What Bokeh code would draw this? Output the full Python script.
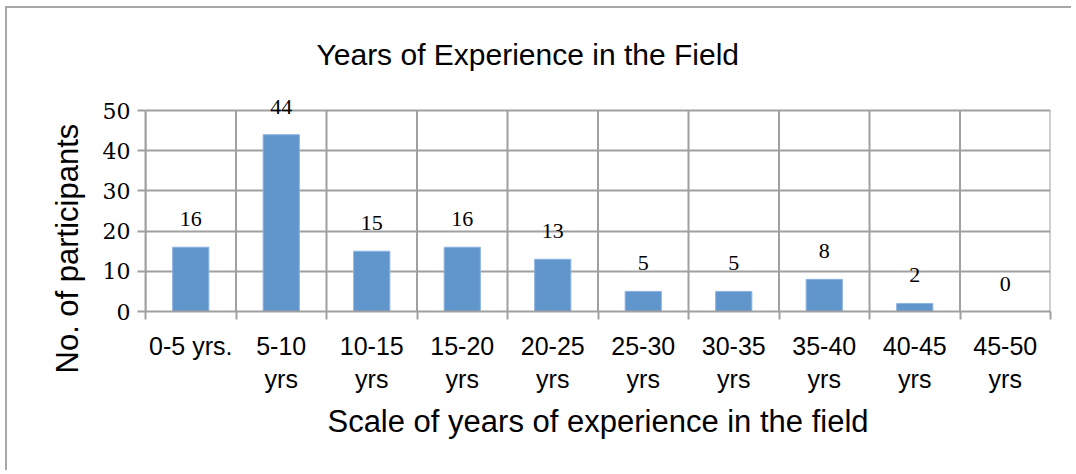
from bokeh.plotting import figure
from bokeh.models import Range1d, FixedTicker, Title, LabelSet, ColumnDataSource
from bokeh.embed import file_html
from bokeh.resources import INLINE

categories = ["0-5 yrs.", "5-10\nyrs", "10-15\nyrs", "15-20\nyrs", "20-25\nyrs",
              "25-30\nyrs", "30-35\nyrs", "35-40\nyrs", "40-45\nyrs", "45-50\nyrs"]
participants = [16, 44, 15, 16, 13, 5, 5, 8, 2, 0]
y_ticks = [0, 10, 20, 30, 40, 50]
y_max = 50

centers = [i + 0.5 for i in range(len(categories))]
bounds = list(range(len(categories) + 1))

GRID = "#A0A0A0"

p = figure(width=1066, height=464, output_backend="svg", toolbar_location=None,
           x_range=Range1d(0, len(categories)), y_range=Range1d(0, 56),
           min_border_left=138, min_border_right=23, min_border_top=78,
           min_border_bottom=161)
p.outline_line_color = None
p.background_fill_color = "white"
p.border_fill_color = "white"
p.styles = {"border-left": "2px solid #A8A8A8", "border-top": "2px solid #A8A8A8",
            "margin-left": "5px", "margin-top": "6px"}

# title
t = Title(text="Years of Experience in the Field", align="left", offset=171,
          text_font="Liberation Sans", text_font_size="30px",
          text_font_style="normal", text_color="black", standoff=32)
p.add_layout(t, "above")

# horizontal grid
p.xgrid.visible = False
p.ygrid.ticker = FixedTicker(ticks=y_ticks)
p.ygrid.grid_line_color = GRID
p.ygrid.grid_line_width = 2

# vertical grid lines between categories (0..50)
p.segment(x0=bounds, y0=[0] * len(bounds), x1=bounds, y1=[y_max] * len(bounds),
          line_color=GRID, line_width=2)

# bars
p.vbar(x=centers, top=participants, width=0.4, fill_color="#6096CC",
       line_color="#8DB3E2", line_width=1)

# value labels
src = ColumnDataSource(dict(x=centers, y=participants,
                            txt=[str(v) for v in participants]))
labels = LabelSet(x="x", y="y", text="txt", source=src,
                  text_font="DejaVu Serif", text_font_size="22px",
                  text_align="center", text_baseline="middle", y_offset=28,
                  text_color="black")
p.add_layout(labels)

# x axis
xa = p.xaxis[0]
xa.ticker = FixedTicker(ticks=centers, minor_ticks=bounds)
xa.major_label_overrides = {c: lab for c, lab in zip(centers, categories)}
xa.major_tick_out = 0
xa.major_tick_in = 0
xa.minor_tick_out = 8
xa.minor_tick_in = 0
xa.minor_tick_line_color = GRID
xa.minor_tick_line_width = 2
xa.axis_line_color = GRID
xa.axis_line_width = 2
xa.major_label_text_font = "Liberation Sans"
xa.major_label_text_font_size = "25px"
xa.major_label_text_color = "black"
xa.major_label_standoff = 12
xa.axis_label = "Scale of years of experience in the field"
xa.axis_label_text_font = "Liberation Sans"
xa.axis_label_text_font_size = "31px"
xa.axis_label_text_font_style = "normal"
xa.axis_label_text_color = "black"
xa.axis_label_standoff = 8

# y axis
ya = p.yaxis[0]
ya.ticker = FixedTicker(ticks=y_ticks)
ya.bounds = (0, y_max)
ya.major_tick_out = 8
ya.major_tick_in = 0
ya.minor_tick_out = 0
ya.minor_tick_in = 0
ya.major_tick_line_color = GRID
ya.major_tick_line_width = 2
ya.axis_line_color = GRID
ya.axis_line_width = 2
ya.major_label_text_font = "DejaVu Serif"
ya.major_label_text_font_size = "22px"
ya.major_label_text_color = "black"
ya.major_label_standoff = 7

yt = Title(text="No. of participants", align="left", offset=-62,
           text_font="Liberation Sans", text_font_size="31px",
           text_font_style="normal", text_color="black", standoff=30)
p.add_layout(yt, "left")

open("out.html", "w").write(file_html(p, INLINE))
